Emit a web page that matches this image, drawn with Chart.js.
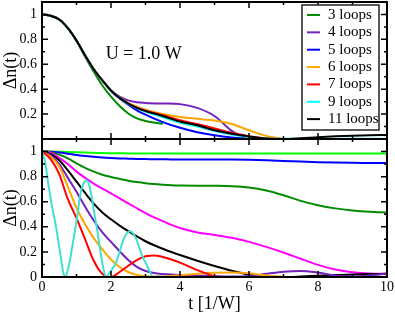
<!DOCTYPE html>
<html>
<head>
<meta charset="utf-8">
<script src="https://cdn.jsdelivr.net/npm/chart.js@4.4.1/dist/chart.umd.min.js"></script>
<style>
  html, body { margin: 0; padding: 0; background: #fff; }
  #wrap { position: relative; width: 395px; height: 312px; }
  #wrap canvas { position: absolute; left: 0; top: 0; }
</style>
</head>
<body>
<div id="wrap">
  <canvas id="topChart" width="395" height="312"></canvas>
  <canvas id="bottomChart" width="395" height="312"></canvas>
</div>
<script>
// axis ticks
const xTicks = [0, 2, 4, 6, 8, 10];
const yGrid = [0, 0.2, 0.4, 0.6, 0.8, 1];
const yLabelsTop = [0.2, 0.4, 0.6, 0.8, 1];
const yLabelsBottom = [0, 0.2, 0.4, 0.6, 0.8, 1];

// top panel: U = 1.0 W, loop orders
const topLabels = ['3 loops', '4 loops', '5 loops', '6 loops', '7 loops', '9 loops', '11 loops'];
const topColors = ['#008b00', '#7221bc', '#0000ff', '#ffa500', '#ff0000', '#00ffff', '#000000'];
const tTop = [0, 0.25, 0.5, 0.75, 1, 1.25, 1.5, 1.75, 2, 2.25, 2.5, 2.75, 3,
              3.5, 4, 4.5, 5, 5.5, 6, 6.5, 7, 7.5, 8, 8.5, 9, 9.5, 10];
const loops3 = [1, 0.99, 0.96, 0.89, 0.79, 0.66, 0.54, 0.43, 0.34, 0.265, 0.205, 0.165, 0.145, 0.122];
const loops4 = [1, 0.99, 0.96, 0.89, 0.79, 0.67, 0.56, 0.47, 0.39, 0.34, 0.31, 0.295, 0.29,
                0.285, 0.28, 0.25, 0.185, 0.065, -0.01];
const loops5 = [1, 0.99, 0.96, 0.89, 0.79, 0.67, 0.56, 0.47, 0.385, 0.325, 0.275, 0.23, 0.195,
                0.135, 0.09, 0.055, 0.03, 0.013, 0.003, 0];
const loops6 = [1, 0.99, 0.96, 0.89, 0.79, 0.67, 0.56, 0.47, 0.39, 0.335, 0.29, 0.26, 0.235,
                0.2, 0.177, 0.162, 0.148, 0.12, 0.07, 0.025, 0];
const loops7 = [1, 0.99, 0.96, 0.89, 0.79, 0.67, 0.56, 0.47, 0.39, 0.33, 0.285, 0.252, 0.228,
                0.19, 0.15, 0.12, 0.085, 0.05, 0.022, 0.005, 0];
const loops9 = [1, 0.99, 0.96, 0.89, 0.79, 0.67, 0.56, 0.47, 0.39, 0.33, 0.283, 0.248, 0.22,
                0.175, 0.13, 0.1, 0.065, 0.036, 0.015, 0.005, 0.003, 0.003, 0.003, 0.003, 0.003, 0.003, 0.003];
const loops11 = [1, 0.99, 0.96, 0.89, 0.79, 0.67, 0.56, 0.47, 0.39, 0.33, 0.285, 0.25, 0.225,
                 0.185, 0.14, 0.11, 0.07, 0.042, 0.02, 0.005, 0, 0.006, 0.015, 0.022, 0.027, 0.03, 0.032];

// bottom panel
const tBot = [0, 0.25, 0.5, 0.75, 1, 1.25, 1.5, 1.75, 2, 2.25, 2.5, 2.75, 3, 3.25, 3.5, 3.75, 4,
              4.5, 5, 5.5, 6, 6.5, 7, 7.5, 8, 8.5, 9, 9.5, 10];
const limeCurve = [1, 1, 0.998, 0.996, 0.994, 0.992, 0.99, 0.988, 0.987, 0.986, 0.985, 0.985, 0.985, 0.985, 0.985, 0.985, 0.985,
                   0.985, 0.985, 0.985, 0.985, 0.985, 0.985, 0.984, 0.984, 0.984, 0.984, 0.984, 0.984];
const blueCurve = [1, 0.998, 0.992, 0.983, 0.973, 0.965, 0.958, 0.952, 0.948, 0.945, 0.943, 0.941, 0.94, 0.939, 0.938, 0.937, 0.937,
                   0.937, 0.937, 0.936, 0.934, 0.93, 0.925, 0.92, 0.915, 0.912, 0.91, 0.909, 0.908];
const greenCurve = [1, 0.995, 0.975, 0.945, 0.905, 0.87, 0.84, 0.815, 0.797, 0.782, 0.768, 0.757, 0.748, 0.741, 0.736, 0.732, 0.73,
                    0.728, 0.727, 0.724, 0.714, 0.69, 0.652, 0.607, 0.572, 0.547, 0.531, 0.521, 0.515];
const magentaCurve = [1, 0.99, 0.95, 0.9, 0.84, 0.79, 0.745, 0.705, 0.667, 0.627, 0.587, 0.548, 0.51, 0.475, 0.445, 0.415, 0.39,
                      0.355, 0.335, 0.313, 0.28, 0.24, 0.195, 0.145, 0.097, 0.06, 0.038, 0.028, 0.025];
const blackCurve = [1, 0.98, 0.93, 0.85, 0.76, 0.67, 0.585, 0.515, 0.46, 0.41, 0.365, 0.323, 0.285, 0.253, 0.225, 0.199, 0.175,
                    0.13, 0.088, 0.05, 0.02, 0.004, 0, 0.004, 0.01, 0.015, 0.02, 0.023, 0.025];
const indigoCurve = [1, 0.97, 0.9, 0.79, 0.68, 0.56, 0.45, 0.355, 0.28, 0.205, 0.135, 0.08, 0.048, 0.032, 0.024, 0.019, 0.016,
                     0.012, 0.008, 0.004, 0.008, 0.025, 0.042, 0.048, 0.035, 0.012, 0.004, 0.012, 0.028];
const orangeCurve = [1, 0.96, 0.88, 0.72, 0.55, 0.42, 0.31, 0.22, 0.14, 0.08, 0.04, 0.017, 0.006, 0.003, 0.004, 0.008, 0.014,
                     0.026, 0.033, 0.035, 0.029, 0.012, 0.002];
const redCurve = [1, 0.94, 0.82, 0.62, 0.47, 0.3, 0.13, 0.025, 0, 0.04, 0.09, 0.135, 0.165, 0.172, 0.16, 0.14, 0.115,
                  0.055, 0.005];
const tCyan = [0, 0.05, 0.1, 0.2, 0.3, 0.4, 0.5, 0.57, 0.62, 0.67, 0.72, 0.8, 0.9, 0.96, 1.03, 1.1, 1.18, 1.25, 1.3, 1.36,
               1.44, 1.52, 1.6, 1.68, 1.75, 1.81, 1.86, 1.92, 2, 2.14, 2.25, 2.35, 2.45, 2.55, 2.65, 2.75, 2.85, 2.95,
               3.03, 3.13, 3.23, 3.4, 3.6, 3.8];
const cyanCurve = [1, 0.96, 0.9, 0.71, 0.55, 0.41, 0.24, 0.11, 0.03, 0, 0.03, 0.12, 0.28, 0.375, 0.5, 0.64, 0.73, 0.765, 0.77, 0.74,
                   0.64, 0.5, 0.375, 0.23, 0.11, 0.03, 0, 0.02, 0.05, 0.11, 0.2, 0.29, 0.345, 0.365, 0.345, 0.29, 0.21, 0.14,
                   0.1, 0.04, 0, 0.004, 0.002, 0];

const pts = (ts, vs) => vs.map((v, i) => ({x: ts[i], y: v}));

Chart.defaults.font.family = "'Liberation Serif', 'Times New Roman', serif";
Chart.defaults.color = '#000';

// grace-like frame: inward ticks on all sides, legend box, note text
const gracePlugin = {
    id: 'grace',
    afterDatasetsDraw(chart, args, opts) {
        const {ctx, chartArea: {left, right, top, bottom}, scales: {x, y}} = chart;
        const mids = a => a.slice(1).map((v, i) => (v + a[i]) / 2);
        ctx.save();
        ctx.strokeStyle = '#000';
        ctx.lineWidth = 1.5;
        ctx.beginPath();
        const xm = xTicks.map(v => [v, 6]).concat(mids(xTicks).map(v => [v, 3]));
        xm.forEach(([v, len]) => {
            const px = x.getPixelForValue(v);
            ctx.moveTo(px, bottom); ctx.lineTo(px, bottom - len);
            ctx.moveTo(px, top); ctx.lineTo(px, top + len);
        });
        const ym = yGrid.map(v => [v, 6]).concat(mids(yGrid).map(v => [v, 3]));
        ym.forEach(([v, len]) => {
            const py = y.getPixelForValue(v);
            ctx.moveTo(left, py); ctx.lineTo(left + len, py);
            ctx.moveTo(right, py); ctx.lineTo(right - len, py);
        });
        ctx.stroke();
        ctx.lineWidth = 2;
        ctx.strokeRect(left, top, right - left, bottom - top);
        ctx.restore();
    },
    afterDraw(chart, args, opts) {
        const {ctx, scales: {x, y}} = chart;
        ctx.save();
        if (opts.note) {
            ctx.font = "18px 'Liberation Serif'";
            ctx.fillStyle = '#000';
            ctx.textAlign = 'center';
            ctx.textBaseline = 'alphabetic';
            ctx.fillText(opts.note.text, x.getPixelForValue(opts.note.x), y.getPixelForValue(opts.note.y));
        }
        if (opts.legend) {
            const lg = opts.legend;
            ctx.fillStyle = '#fff';
            ctx.fillRect(lg.x, lg.y, lg.w, lg.h);
            ctx.strokeStyle = '#222';
            ctx.lineWidth = 1.5;
            ctx.strokeRect(lg.x, lg.y, lg.w, lg.h);
            ctx.font = "15px 'Liberation Serif'";
            ctx.textAlign = 'left';
            ctx.textBaseline = 'middle';
            topLabels.forEach((label, i) => {
                const cy = lg.y + 10 + i * lg.row;
                ctx.strokeStyle = topColors[i];
                ctx.lineWidth = 2;
                ctx.beginPath();
                ctx.moveTo(lg.x + 5, cy);
                ctx.lineTo(lg.x + 18, cy);
                ctx.stroke();
                ctx.fillStyle = '#000';
                ctx.fillText(label, lg.x + 26, cy);
            });
        }
        ctx.restore();
    }
};

const fmt = v => String(+Number(v).toFixed(1));

function yScale(labels) {
    return {
        type: 'linear', min: 0, max: 1.1,
        afterBuildTicks: s => { s.ticks = labels.map(v => ({value: v})); },
        afterFit: s => { s.width = 42; s.paddingTop = 0; s.paddingBottom = 0; },
        grid: {display: false, drawTicks: false},
        border: {display: false},
        ticks: {padding: 5, font: {size: 14}, color: '#000', callback: fmt, autoSkip: false},
        title: {display: true, text: 'Δn(t)', font: {size: 18}, color: '#000', padding: {top: 0, bottom: 0}}
    };
}

const topSets = [loops3, loops4, loops5, loops6, loops7, loops9, loops11].map((vals, i) => ({
    label: topLabels[i],
    data: pts(tTop, vals),
    borderColor: topColors[i],
    borderWidth: 2,
    pointRadius: 0,
    fill: false,
    cubicInterpolationMode: 'monotone'
})).reverse();

new Chart(document.getElementById('topChart'), {
    type: 'line',
    data: {datasets: topSets},
    options: {
        responsive: false,
        animation: false,
        devicePixelRatio: 1,
        layout: {padding: {left: 0, top: 2, right: 8, bottom: 173}},
        scales: {
            x: {type: 'linear', min: 0, max: 10, display: false},
            y: yScale(yLabelsTop)
        },
        plugins: {
            legend: {display: false},
            tooltip: {enabled: false},
            grace: {
                note: {text: 'U = 1.0 W', x: 2.95, y: 0.64},
                legend: {x: 302, y: 5, w: 77, h: 125, row: 17.35}
            }
        }
    },
    plugins: [gracePlugin]
});

const botSeries = [
    [tBot, limeCurve, '#00ff00'],
    [tBot, blueCurve, '#0000ff'],
    [tBot, greenCurve, '#008b00'],
    [tBot, magentaCurve, '#ff00ff'],
    [tBot, blackCurve, '#000000'],
    [tBot, indigoCurve, '#7221bc'],
    [tBot, orangeCurve, '#ffa500'],
    [tBot, redCurve, '#ff0000'],
    [tCyan, cyanCurve, '#40e0d0']
];
const botSets = botSeries.map(([ts, vals, color]) => ({
    data: pts(ts, vals),
    borderColor: color,
    borderWidth: 2,
    pointRadius: 0,
    fill: false,
    cubicInterpolationMode: 'monotone'
})).reverse();

new Chart(document.getElementById('bottomChart'), {
    type: 'line',
    data: {datasets: botSets},
    options: {
        responsive: false,
        animation: false,
        devicePixelRatio: 1,
        layout: {padding: {left: 0, top: 139, right: 8, bottom: 0}},
        scales: {
            x: {
                type: 'linear', min: 0, max: 10,
                afterBuildTicks: s => { s.ticks = xTicks.map(v => ({value: v})); },
                afterFit: s => { s.height = 35; s.paddingLeft = 0; s.paddingRight = 0; },
                grid: {display: false, drawTicks: false},
                border: {display: false},
                ticks: {padding: 2, font: {size: 14}, color: '#000', maxRotation: 0, autoSkip: false, callback: fmt},
                title: {display: true, text: 't [1/W]', font: {size: 18}, color: '#000', padding: {top: 0, bottom: -3}}
            },
            y: yScale(yLabelsBottom)
        },
        plugins: {
            legend: {display: false},
            tooltip: {enabled: false},
            grace: {}
        }
    },
    plugins: [gracePlugin]
});
</script>
</body>
</html>
